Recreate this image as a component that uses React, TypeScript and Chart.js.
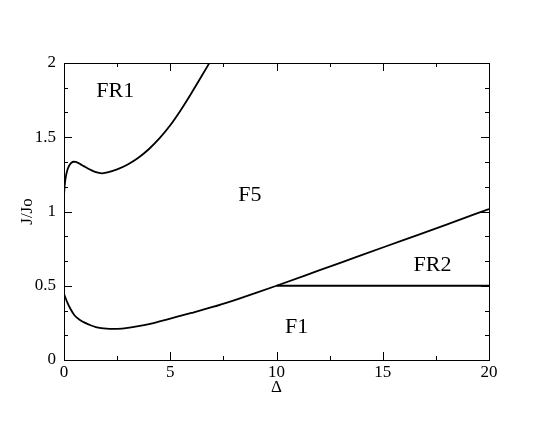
import React, { useEffect, useRef } from "react";
import { Chart, registerables } from "chart.js";

Chart.register(...registerables);

// Lower boundary curve (F1 / F5 and FR2)
const lowerX = [0, 0.15, 0.3, 0.5, 0.75, 1.0, 1.25, 1.5, 1.75, 2.0, 2.25, 2.5, 3, 3.5, 4, 4.5, 5, 6, 7, 8, 9, 10, 12, 14, 16, 18, 20];
const lowerY = [0.445, 0.39, 0.345, 0.3, 0.27, 0.25, 0.234, 0.222, 0.215, 0.211, 0.209, 0.21, 0.217, 0.228, 0.242, 0.26, 0.279, 0.317, 0.357, 0.402, 0.45, 0.5, 0.603, 0.706, 0.809, 0.912, 1.017];

// Upper boundary curve (FR1 / F5)
const upperX = [0, 0.03, 0.06, 0.1, 0.15, 0.2, 0.27, 0.35, 0.45, 0.55, 0.7, 0.85, 1.0, 1.2, 1.4, 1.6, 1.8, 2.0, 2.5, 3.0, 3.5, 4.0, 4.5, 5.0, 5.5, 6.0, 6.5, 6.84];
const upperY = [1.11, 1.17, 1.21, 1.245, 1.275, 1.295, 1.315, 1.328, 1.335, 1.334, 1.325, 1.312, 1.3, 1.284, 1.27, 1.261, 1.257, 1.262, 1.284, 1.317, 1.362, 1.421, 1.494, 1.581, 1.684, 1.798, 1.917, 2.0];

// Horizontal boundary (F1 / FR2)
const flatX = [10, 20];
const flatY = [0.5, 0.5];

// Region labels
const regionLabels = ["FR1", "F5", "FR2", "F1"];
const regionX = [2.41, 8.75, 17.34, 10.95];
const regionY = [1.807, 1.111, 0.64, 0.219];

// Ticks
const xMajorTicks = [0, 5, 10, 15, 20];
const xMinorTicks = [2.5, 7.5, 12.5, 17.5];
const yMajorTicks = [0, 0.5, 1, 1.5, 2];
const yMinorTicks = [1 / 6, 2 / 6, 4 / 6, 5 / 6, 7 / 6, 8 / 6, 10 / 6, 11 / 6];

const xTitle = "Δ";
const yTitle = "J/Jo";

const SERIF = '"Liberation Serif"';

const toPts = (xs: number[], ys: number[]) => xs.map((x, i) => ({ x, y: ys[i] }));

const framePlugin = {
  id: "framePlugin",
  afterDraw(chart: any) {
    const ctx = chart.ctx;
    const { left, right, top, bottom } = chart.chartArea;
    const xs = chart.scales.x;
    const ys = chart.scales.y;
    ctx.save();
    ctx.strokeStyle = "#000";
    ctx.lineWidth = 1;
    ctx.strokeRect(Math.round(left) + 0.5, Math.round(top) + 0.5, Math.round(right - left), Math.round(bottom - top));
    ctx.beginPath();
    const xt = (v: number, len: number) => {
      const p = Math.round(xs.getPixelForValue(v)) + 0.5;
      ctx.moveTo(p, bottom);
      ctx.lineTo(p, bottom - len);
      ctx.moveTo(p, top);
      ctx.lineTo(p, top + len);
    };
    const yt = (v: number, len: number) => {
      const p = Math.round(ys.getPixelForValue(v)) + 0.5;
      ctx.moveTo(left, p);
      ctx.lineTo(left + len, p);
      ctx.moveTo(right, p);
      ctx.lineTo(right - len, p);
    };
    xMajorTicks.forEach((v) => xt(v, 8));
    xMinorTicks.forEach((v) => xt(v, 4));
    yMajorTicks.forEach((v) => yt(v, 8));
    yMinorTicks.forEach((v) => yt(v, 4));
    ctx.stroke();

    ctx.fillStyle = "#000";
    ctx.font = `22px ${SERIF}`;
    ctx.textAlign = "center";
    ctx.textBaseline = "middle";
    regionLabels.forEach((t, i) => {
      ctx.fillText(t, xs.getPixelForValue(regionX[i]), ys.getPixelForValue(regionY[i]));
    });
    ctx.restore();
  },
};

export default function App() {
  const ref = useRef<HTMLCanvasElement | null>(null);
  useEffect(() => {
    if (!ref.current) return;
    const lineStyle = {
      showLine: true,
      borderColor: "#000",
      backgroundColor: "#000",
      borderWidth: 1.8,
      pointRadius: 0,
      cubicInterpolationMode: "monotone",
      fill: false,
    };
    const chart = new Chart(ref.current, {
      type: "scatter",
      data: {
        datasets: [
          { ...lineStyle, data: toPts(upperX, upperY) },
          { ...lineStyle, data: toPts(lowerX, lowerY) },
          { ...lineStyle, cubicInterpolationMode: "default", tension: 0, data: toPts(flatX, flatY) },
        ],
      },
      options: {
        responsive: false,
        animation: false,
        devicePixelRatio: 1,
        layout: { padding: { left: 0, top: 63, right: 61, bottom: 0 } },
        plugins: { legend: { display: false }, tooltip: { enabled: false } },
        scales: {
          x: {
            type: "linear",
            min: 0,
            max: 20,
            grid: { display: false, drawTicks: false },
            border: { display: false },
            afterBuildTicks: (s: any) => {
              s.ticks = xMajorTicks.map((v) => ({ value: v }));
            },
            afterFit: (s: any) => {
              s.height = 65;
            },
            ticks: {
              color: "#000",
              padding: 2,
              maxRotation: 0,
              font: { family: SERIF, size: 17 },
              callback: (v: any) => String(v),
            },
            title: {
              display: true,
              text: xTitle,
              color: "#000",
              font: { family: SERIF, size: 17 },
              padding: { top: 0, bottom: 27 },
            },
          },
          y: {
            type: "linear",
            min: 0,
            max: 2,
            grid: { display: false, drawTicks: false },
            border: { display: false },
            afterBuildTicks: (s: any) => {
              s.ticks = yMajorTicks.map((v) => ({ value: v }));
            },
            afterFit: (s: any) => {
              s.width = 64;
            },
            ticks: {
              color: "#000",
              padding: 8,
              font: { family: SERIF, size: 17 },
              callback: (v: any) => String(v),
            },
            title: {
              display: true,
              text: yTitle,
              color: "#000",
              font: { family: SERIF, size: 17 },
              padding: { top: 17, bottom: 0 },
            },
          },
        },
      },
      plugins: [framePlugin],
    } as any);
    return () => chart.destroy();
  }, []);
  return (
    <div style={{ position: "absolute", left: 0, top: 0, width: 550, height: 425, background: "#fff" }}>
      <canvas ref={ref} width={550} height={425} />
    </div>
  );
}
